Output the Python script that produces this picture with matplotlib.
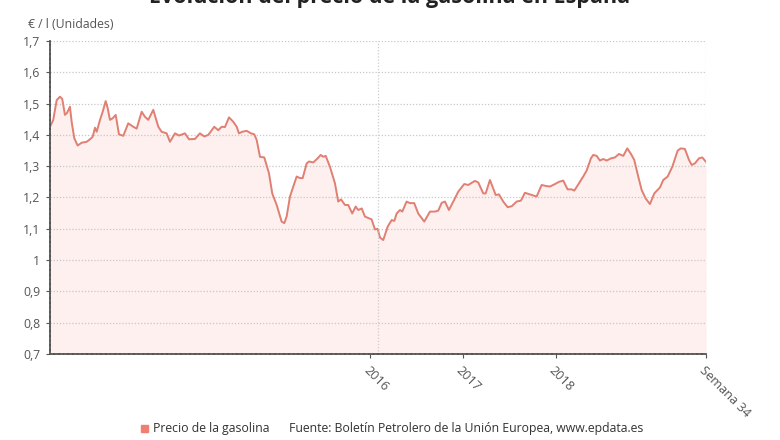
import matplotlib
matplotlib.use("Agg")
import matplotlib.pyplot as plt
from matplotlib.ticker import FuncFormatter

plt.rcParams['font.family'] = ['Open Sans', 'DejaVu Sans']

# fecha en años decimales, precio en €/l
fecha = [2012.552, 2012.587, 2012.624, 2012.659, 2012.684, 2012.713, 2012.735, 2012.767,
         2012.786, 2012.814, 2012.850, 2012.893, 2012.947, 2012.983, 2013.012, 2013.037,
         2013.055, 2013.091, 2013.120, 2013.152, 2013.174, 2013.198, 2013.227, 2013.260,
         2013.295, 2013.342, 2013.395, 2013.449, 2013.486, 2013.540, 2013.575, 2013.611,
         2013.665, 2013.719, 2013.755, 2013.809, 2013.845, 2013.899, 2013.942, 2014.006,
         2014.050, 2014.114, 2014.168, 2014.214, 2014.258, 2014.322, 2014.365, 2014.402,
         2014.437, 2014.481, 2014.527, 2014.564, 2014.588, 2014.624, 2014.671, 2014.718,
         2014.753, 2014.779, 2014.815, 2014.861, 2014.912, 2014.947, 2014.995, 2015.048,
         2015.077, 2015.102, 2015.138, 2015.174, 2015.210, 2015.246, 2015.275, 2015.318,
         2015.343, 2015.389, 2015.436, 2015.469, 2015.497, 2015.523, 2015.569, 2015.623,
         2015.658, 2015.688, 2015.731, 2015.766, 2015.809, 2015.846, 2015.874, 2015.911,
         2015.946, 2016.018, 2016.054, 2016.083, 2016.108, 2016.143, 2016.191, 2016.234,
         2016.262, 2016.288, 2016.323, 2016.348, 2016.395, 2016.431, 2016.477, 2016.520,
         2016.585, 2016.647, 2016.700, 2016.736, 2016.773, 2016.808, 2016.851, 2016.898,
         2016.952, 2017.016, 2017.059, 2017.131, 2017.167, 2017.221, 2017.247, 2017.293,
         2017.355, 2017.390, 2017.436, 2017.484, 2017.527, 2017.581, 2017.627, 2017.670,
         2017.742, 2017.796, 2017.850, 2017.893, 2017.940, 2017.994, 2018.037, 2018.083,
         2018.130, 2018.173, 2018.202, 2018.252, 2018.298, 2018.335, 2018.381, 2018.406,
         2018.443, 2018.478, 2018.514, 2018.551, 2018.597, 2018.640, 2018.683, 2018.730,
         2018.773, 2018.813, 2018.848, 2018.891, 2018.928, 2018.971, 2019.017, 2019.064,
         2019.125, 2019.161, 2019.208, 2019.258, 2019.316, 2019.351, 2019.394, 2019.438,
         2019.467, 2019.502, 2019.545, 2019.581, 2019.621]
precio = [1.426, 1.448, 1.511, 1.522, 1.515, 1.464, 1.470, 1.490,
          1.440, 1.389, 1.366, 1.375, 1.378, 1.386, 1.394, 1.423,
          1.410, 1.448, 1.474, 1.508, 1.485, 1.448, 1.453, 1.464,
          1.402, 1.397, 1.437, 1.426, 1.420, 1.474, 1.458, 1.448,
          1.480, 1.426, 1.410, 1.405, 1.378, 1.405, 1.398, 1.405,
          1.386, 1.387, 1.405, 1.395, 1.400, 1.426, 1.415, 1.426,
          1.425, 1.456, 1.442, 1.426, 1.405, 1.410, 1.413, 1.405,
          1.402, 1.384, 1.330, 1.328, 1.277, 1.213, 1.176, 1.123,
          1.118, 1.139, 1.203, 1.235, 1.267, 1.262, 1.262, 1.309,
          1.315, 1.312, 1.325, 1.336, 1.330, 1.333, 1.298, 1.245,
          1.187, 1.194, 1.176, 1.176, 1.149, 1.171, 1.160, 1.165,
          1.139, 1.130, 1.098, 1.100, 1.072, 1.064, 1.107, 1.128,
          1.125, 1.149, 1.160, 1.155, 1.187, 1.182, 1.182, 1.149,
          1.123, 1.155, 1.155, 1.158, 1.183, 1.187, 1.160, 1.187,
          1.219, 1.243, 1.240, 1.253, 1.248, 1.213, 1.213, 1.256,
          1.208, 1.210, 1.187, 1.169, 1.172, 1.187, 1.190, 1.215,
          1.208, 1.203, 1.240, 1.237, 1.235, 1.243, 1.250, 1.254,
          1.226, 1.226, 1.222, 1.245, 1.267, 1.286, 1.325, 1.336,
          1.333, 1.318, 1.323, 1.318, 1.325, 1.328, 1.339, 1.333,
          1.357, 1.339, 1.320, 1.267, 1.224, 1.197, 1.179, 1.213,
          1.232, 1.256, 1.267, 1.298, 1.350, 1.357, 1.355, 1.320,
          1.304, 1.309, 1.325, 1.328, 1.314]

tick_pos = [2016, 2017, 2018, 2019.621]
tick_labels = ["2016", "2017", "2018", "Semana 34"]
linea_2016 = 2016.083

titulo = "Evolución del precio de la gasolina en España"
fuente = "Fuente: Boletín Petrolero de la Unión Europea, www.epdata.es"
serie = "Precio de la gasolina"

color_linea = '#e07f72'
color_relleno = '#fdf0ee'

fig = plt.figure(figsize=(7.8, 4.4), dpi=100)
ax = fig.add_axes([0.0641, 0.1955, 0.8410, 0.7113])

ax.fill_between(fecha, precio, 0.7, color=color_relleno, lw=0)
ax.plot(fecha, precio, color=color_linea, lw=1.4)

ax.set_xlim(fecha[0], fecha[-1])
ax.set_ylim(0.7, 1.7)
ax.set_yticks([0.7 + 0.1 * i for i in range(11)])
ax.yaxis.set_major_formatter(FuncFormatter(lambda v, p: f"{round(v, 1):g}".replace('.', ',')))
ax.grid(axis='y', color='#c8c8c8', linestyle=(0, (1, 1.5)), lw=0.9)
ax.axvline(linea_2016, color='#cccccc', linestyle=(0, (1, 1.5)), lw=0.9)
ax.axvline(fecha[-1], color='#cccccc', linestyle=(0, (1, 1.5)), lw=0.9)

ax.set_xticks(tick_pos)
ax.set_xticklabels(tick_labels, rotation=-45, ha='left', va='top',
                   rotation_mode='anchor', fontsize=9.2, color='#555555')
ax.tick_params(axis='y', labelsize=8.8, labelcolor='#555555', length=3,
               color='#555555', pad=4)
ax.tick_params(axis='x', length=3, color='#555555', pad=4)

for s in ['top', 'right']:
    ax.spines[s].set_visible(False)
for s in ['left', 'bottom']:
    ax.spines[s].set_color('#555555')
    ax.spines[s].set_linewidth(1.3)
    ax.spines[s].set_linestyle((0, (2, 0.6)))

fig.text(28 / 780, 1 - 25 / 440, "€ / l (Unidades)", fontsize=8.8, color='#555555',
         ha='left', va='center')
fig.text(0.5, 1 - 3 / 440, titulo, fontsize=15.5, fontweight='bold', color='#222222',
         ha='center', va='baseline')

fig.patches.append(plt.Rectangle((141 / 780, 1 - 432 / 440), 7 / 780, 7 / 440,
                                 transform=fig.transFigure, color='#ef7f70'))
fig.text(153 / 780, 1 - 428 / 440, serie, fontsize=8.8, color='#333333',
         ha='left', va='center')
fig.text(289 / 780, 1 - 428 / 440, fuente, fontsize=8.8, color='#333333',
         ha='left', va='center')

fig.savefig("out.png", dpi=100)
